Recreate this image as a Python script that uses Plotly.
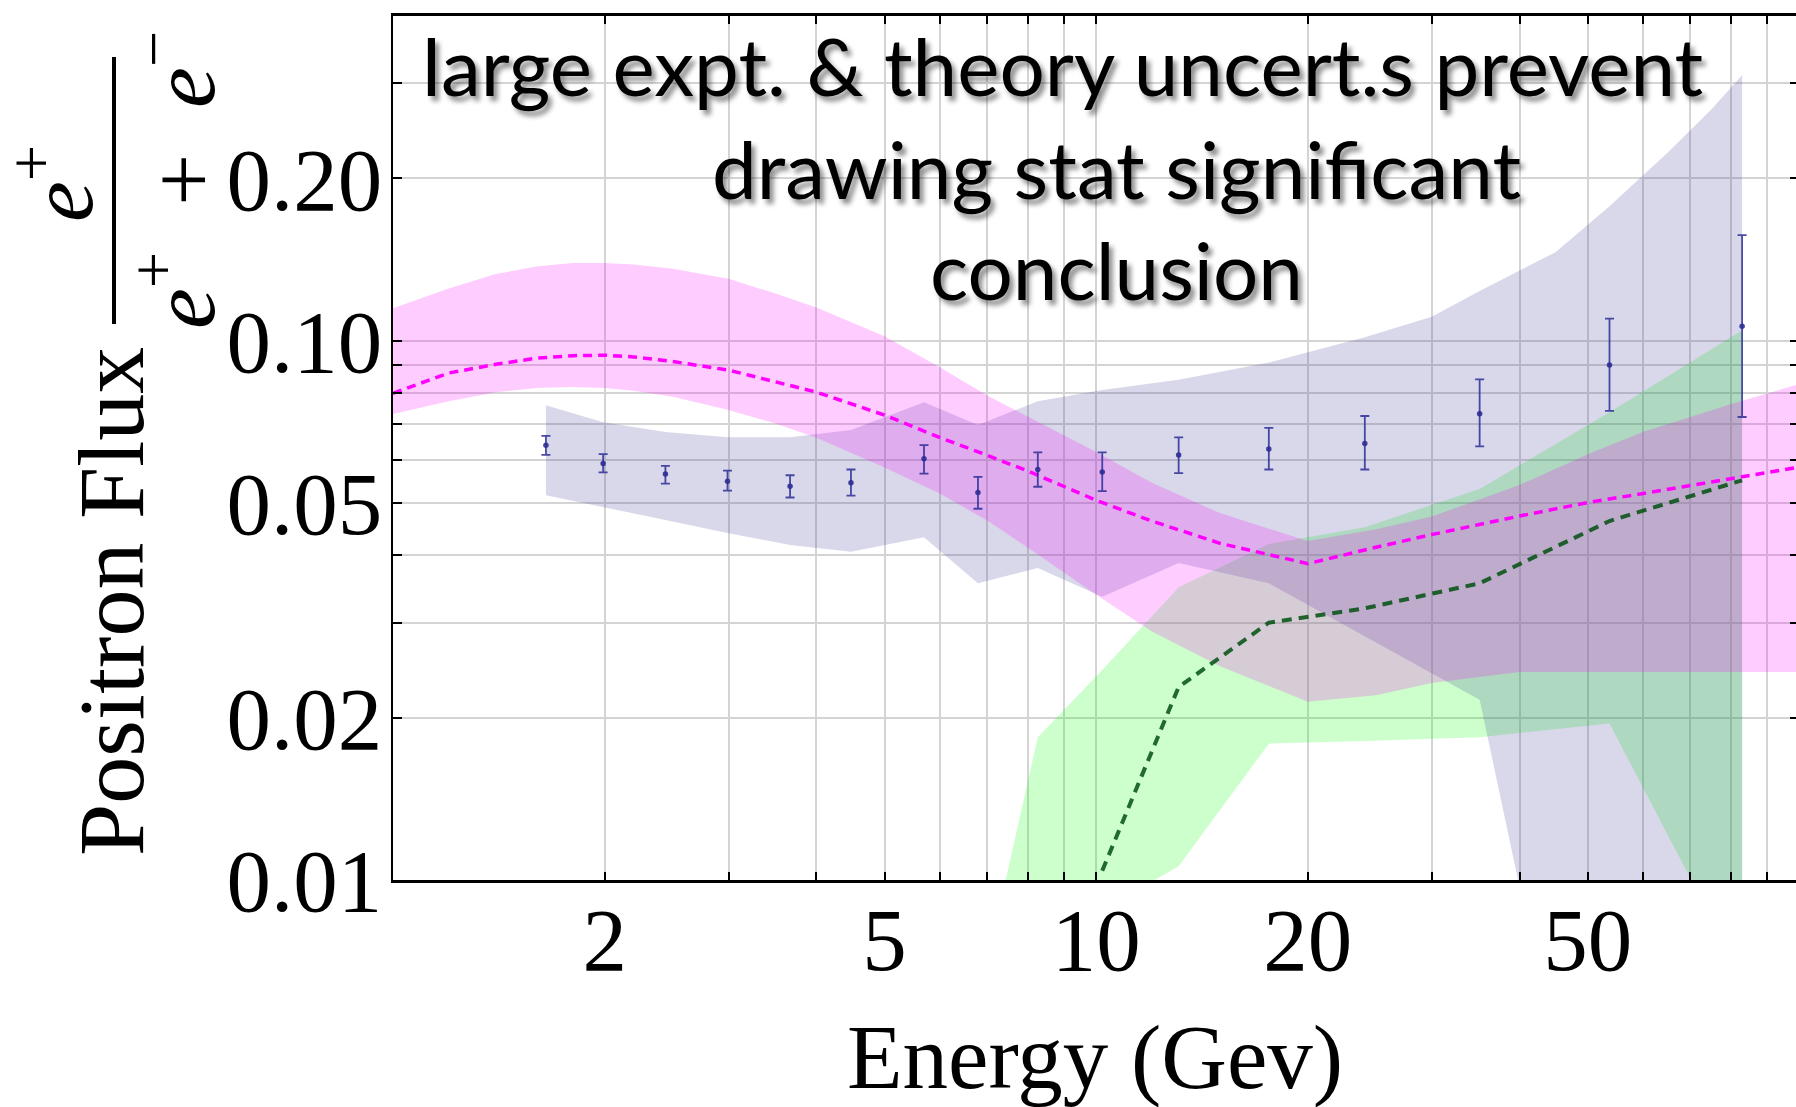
import numpy as np
import plotly.graph_objects as go

# ---------------- data ----------------
# measured positron fraction with error bars
energy = [1.65, 1.99, 2.44, 2.99, 3.67, 4.48, 5.69, 6.79, 8.26, 10.2, 13.1, 17.6, 24.1, 35.1, 53.7, 82.9]
fraction = [0.0640, 0.0592, 0.0566, 0.0549, 0.0537, 0.0545, 0.0604, 0.0523, 0.0577, 0.0571,
            0.0614, 0.0630, 0.0645, 0.0732, 0.0901, 0.1064]
fraction_hi = [0.0666, 0.0616, 0.0586, 0.0574, 0.0563, 0.0577, 0.0640, 0.0559, 0.0621, 0.0621,
               0.0662, 0.0689, 0.0725, 0.0848, 0.1099, 0.1569]
fraction_lo = [0.0614, 0.0570, 0.0543, 0.0527, 0.0512, 0.0516, 0.0567, 0.0488, 0.0536, 0.0526,
               0.0568, 0.0577, 0.0577, 0.0637, 0.0741, 0.0722]

# experimental uncertainty envelope (lavender)
lav_upper_e = [1.65, 1.99, 2.44, 2.99, 3.67, 4.48, 5.69, 6.79, 8.26, 10.2, 13.1, 17.6, 24.1,
               30, 35.1, 45, 53.7, 65, 75, 82.9]
lav_upper = [0.0759, 0.0706, 0.0677, 0.0662, 0.0662, 0.0683, 0.0769, 0.0698, 0.0772, 0.0810,
             0.0846, 0.0911, 0.1015, 0.1108, 0.1237, 0.1459, 0.1775, 0.2233, 0.2686, 0.3105]
lav_lower = [0.0517, 0.0491, 0.0465, 0.0440, 0.0418, 0.0406, 0.0432, 0.0355, 0.0379, 0.0335,
             0.0387, 0.0355, 0.0283, 0.0216, 0.0016, 0.0015]

# theory band 1 (magenta): central curve and envelope
pink_e = [1.0, 1.2, 1.4, 1.6, 1.8, 2.0, 2.2, 2.5, 3.0, 3.5, 4.0, 5.0, 6.0, 7.0, 8.0,
          10, 12, 15, 20, 25, 30, 40, 50, 60, 80, 100]
pink_mid = [0.0799, 0.0871, 0.0904, 0.0928, 0.0938, 0.0940, 0.0933, 0.0915, 0.0882, 0.0838,
            0.0803, 0.0728, 0.0661, 0.0613, 0.0573, 0.0506, 0.0463, 0.0421, 0.0386, 0.0414,
            0.0437, 0.0473, 0.0501, 0.0521, 0.0554, 0.0583]
pink_upper = [0.1149, 0.1250, 0.1329, 0.1372, 0.1393, 0.1394, 0.1384, 0.1359, 0.1303, 0.1223,
              0.1152, 0.1019, 0.0892, 0.0791, 0.0723, 0.0622, 0.0545, 0.0479, 0.0425, 0.0447,
              0.0472, 0.0540, 0.0616, 0.0678, 0.0763, 0.0831]
pink_lower = [0.0731, 0.0772, 0.0802, 0.0817, 0.0821, 0.0817, 0.0808, 0.0787, 0.0744, 0.0702,
              0.0661, 0.0582, 0.0520, 0.0464, 0.0413, 0.0338, 0.0289, 0.0249, 0.0214, 0.0220,
              0.0232, 0.0243, 0.0243, 0.0243, 0.0243, 0.0243]

# theory band 2 (green): central curve and envelope
green_e = [6.79, 8.26, 10.2, 13.1, 17.6, 24.1, 35.1, 53.7, 82.9]
green_upper = [0.0059, 0.0184, 0.0245, 0.0349, 0.0420, 0.0451, 0.0531, 0.0737, 0.1046]
green_lower = [0.0040, 0.0060, 0.0088, 0.0106, 0.0179, 0.0181, 0.0184, 0.0195, 0.0066]
green_mid_e = [10.2, 13.1, 17.6, 24.1, 35.1, 53.7, 82.9]
green_mid = [0.0104, 0.0228, 0.0300, 0.0319, 0.0355, 0.0463, 0.0551]

# axis ticks
x_tickvals = [2, 3, 4, 5, 6, 7, 8, 9, 10, 20, 30, 40, 50, 60, 70, 80, 90]
x_ticktext = ["2", "", "", "5", "", "", "", "", "10", "20", "", "", "50", "", "", "", ""]
y_tickvals = [0.01, 0.02, 0.03, 0.04, 0.05, 0.06, 0.07, 0.08, 0.09, 0.1, 0.2, 0.3]
y_ticktext = ["0.01", "0.02", "", "", "0.05", "", "", "", "", "0.10", "0.20", ""]

# ---------------- figure ----------------
W, H = 1796, 1107
M_L, M_R, M_T, M_B = 393, 0, 16, 227
X_RANGE = [0, np.log10(98.9)]
Y_RANGE = [-2, np.log10(0.4)]
serif = "Liberation Serif, Times New Roman, serif"


def band(xs_up, ys_up, xs_lo, ys_lo, color):
    return go.Scatter(
        x=list(xs_up) + list(xs_lo)[::-1],
        y=list(ys_up) + list(ys_lo)[::-1],
        mode="lines", fill="toself", fillcolor=color,
        line=dict(width=0, color=color), hoverinfo="skip", showlegend=False,
    )


fig = go.Figure()
fig.add_trace(band(green_e, green_upper, green_e, green_lower, "rgba(0,255,0,0.2)"))
fig.add_trace(band(lav_upper_e, lav_upper, energy, lav_lower, "rgba(60,60,150,0.2)"))
fig.add_trace(band(pink_e, pink_upper, pink_e, pink_lower, "rgba(255,0,255,0.2)"))

fig.add_trace(go.Scatter(
    x=green_mid_e, y=green_mid, mode="lines",
    line=dict(color="rgba(0,80,15,0.85)", width=4, dash="10px,7px"),
    hoverinfo="skip", showlegend=False,
))
fig.add_trace(go.Scatter(
    x=pink_e, y=pink_mid, mode="lines",
    line=dict(color="#ff00ff", width=3.5, dash="9px,6px"),
    hoverinfo="skip", showlegend=False,
))

err_plus = [h - v for h, v in zip(fraction_hi, fraction)]
err_minus = [v - l for v, l in zip(fraction, fraction_lo)]
fig.add_trace(go.Scatter(
    x=energy, y=fraction, mode="markers",
    marker=dict(color="rgba(45,45,150,0.9)", size=5.5),
    error_y=dict(type="data", symmetric=False, array=err_plus, arrayminus=err_minus,
                 color="rgba(45,45,150,0.85)", thickness=1.8, width=4.5),
    hoverinfo="skip", showlegend=False,
))

# invisible trace that carries the right-hand tick axis
fig.add_trace(go.Scatter(x=[energy[0]], y=[fraction[0]], yaxis="y2", mode="markers",
                         marker=dict(opacity=0), hoverinfo="skip", showlegend=False))

tick_font = dict(family=serif, size=89, color="black")
fig.update_layout(
    width=W, height=H, autosize=False,
    margin=dict(l=M_L, r=M_R, t=M_T, b=M_B),
    paper_bgcolor="white", plot_bgcolor="white",
    xaxis=dict(type="log", range=X_RANGE, tickvals=x_tickvals, ticktext=x_ticktext,
               showgrid=True, gridcolor="rgb(212,212,212)", gridwidth=1.5, zeroline=False,
               showline=True, linecolor="black", linewidth=2.5, mirror="ticks",
               ticks="inside", ticklen=8, tickwidth=1.5, tickcolor="black",
               tickfont=tick_font, ticklabelstandoff=-20),
    yaxis=dict(type="log", range=Y_RANGE, tickvals=y_tickvals, ticktext=y_ticktext,
               showgrid=True, gridcolor="rgb(212,212,212)", gridwidth=1.5, zeroline=False,
               showline=True, linecolor="black", linewidth=2, mirror=False,
               ticks="inside", ticklen=9, tickwidth=1.5, tickcolor="black",
               tickfont=tick_font, ticklabelstandoff=-9),
    yaxis2=dict(type="log", range=Y_RANGE, overlaying="y", side="right", anchor="x",
                tickvals=y_tickvals, showticklabels=False, showgrid=False, zeroline=False,
                showline=False, ticks="inside", ticklen=6, tickwidth=1.5, tickcolor="black"),
)

plot_w = W - M_L - M_R
plot_h = H - M_T - M_B


def px(xp):
    return (xp - M_L) / plot_w


def py(yp):
    return (H - M_B - yp) / plot_h


# axis titles
fig.add_annotation(text="Energy (Gev)", x=0.5, y=py(1057), xref="paper", yref="paper",
                   xanchor="center", yanchor="middle", showarrow=False,
                   font=dict(family=serif, size=91, color="black"))
fig.add_annotation(text="Positron Flux", x=px(111), y=py(602), xref="paper", yref="paper",
                   xanchor="center", yanchor="middle", showarrow=False, textangle=-90,
                   font=dict(family=serif, size=94, color="black"))
fig.add_annotation(text="<i>e</i><sup>+</sup>", x=px(54), y=py(184), xref="paper", yref="paper",
                   xanchor="center", yanchor="middle", showarrow=False, textangle=-90,
                   font=dict(family=serif, size=92, color="black"))
fig.add_annotation(text="<i>e</i><sup>+</sup>\u2002+\u2002<i>e</i><sup>\u2212</sup>",
                   x=px(176), y=py(180), xref="paper", yref="paper",
                   xanchor="center", yanchor="middle", showarrow=False, textangle=-90,
                   font=dict(family=serif, size=92, color="black"))
fig.add_shape(type="line", xref="paper", yref="paper", x0=px(114), x1=px(114),
              y0=py(324), y1=py(57), line=dict(color="black", width=4))

# message in the plot
msg_font = dict(family="Lato, Carlito, sans-serif", size=80, color="black",
                shadow="4px 5px 5px rgba(0,0,0,0.45)")
for txt, cx, cy in [("large expt. &amp; theory uncert.s prevent", 1062, 65),
                    ("drawing stat significant", 1116, 168),
                    ("conclusion", 1116, 269)]:
    fig.add_annotation(text=txt, x=px(cx), y=py(cy), xref="paper", yref="paper",
                       xanchor="center", yanchor="middle", showarrow=False, font=msg_font)

fig.write_html("out.html")
